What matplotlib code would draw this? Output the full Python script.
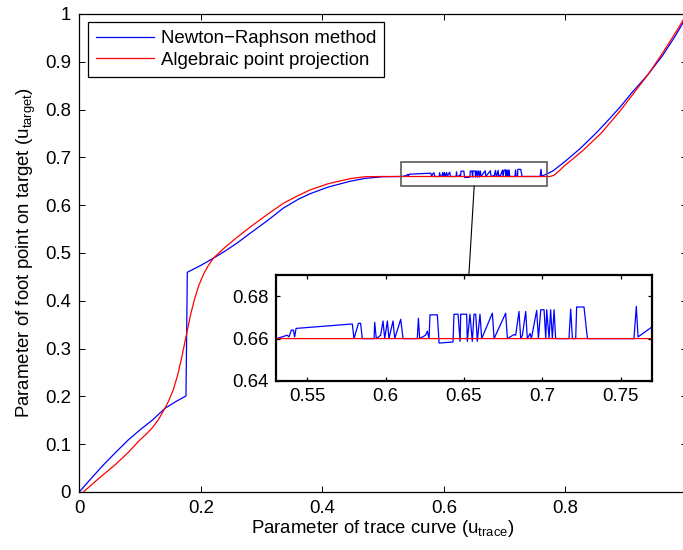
import matplotlib
matplotlib.use("Agg")
import matplotlib.pyplot as plt
from matplotlib.patches import Rectangle, ConnectionPatch

plt.rcParams['font.family'] = ['Liberation Sans', 'DejaVu Sans']
plt.rcParams['mathtext.fontset'] = 'custom'
plt.rcParams['mathtext.rm'] = 'Liberation Sans'
plt.rcParams['mathtext.it'] = 'Liberation Sans:italic'

# Newton-Raphson result (blue)
nr_early_x = [0.0, 0.02, 0.04, 0.06, 0.0807, 0.1, 0.12, 0.141, 0.16, 0.1756,
              0.1778, 0.2, 0.2206, 0.24, 0.26, 0.281, 0.31, 0.336, 0.36, 0.38,
              0.41, 0.4456, 0.47, 0.5]
nr_early_y = [0.0, 0.029, 0.057, 0.083, 0.109, 0.13, 0.15, 0.175, 0.19, 0.2008,
              0.4596, 0.474, 0.489, 0.504, 0.521, 0.541, 0.568, 0.594, 0.612, 0.624,
              0.638, 0.650, 0.656, 0.6595]

# the noisy plateau (what the inset shows)
nr_plateau_x = [0.5304, 0.5372, 0.5383, 0.5398, 0.5411, 0.5419, 0.5428, 0.5787, 0.5798, 0.5826,
                0.5840, 0.5851, 0.5926, 0.5930, 0.5940, 0.5968, 0.5983, 0.5994, 0.6011, 0.6021,
                0.6047, 0.6058, 0.6096, 0.6111, 0.6202, 0.6209, 0.6217, 0.6255, 0.6266, 0.6277,
                0.6283, 0.6330, 0.6341, 0.6430, 0.6436, 0.6462, 0.6475, 0.6479, 0.6517, 0.6521,
                0.6538, 0.6553, 0.6564, 0.6575, 0.6585, 0.6602, 0.6613, 0.6681, 0.6692, 0.6766,
                0.6777, 0.6819, 0.6830, 0.6851, 0.6862, 0.6873, 0.6894, 0.6904, 0.6922, 0.6930,
                0.6964, 0.6975, 0.6990, 0.7011, 0.7022, 0.7028, 0.7043, 0.7053, 0.7064, 0.7075,
                0.7085, 0.7170, 0.7181, 0.7192, 0.7213, 0.7219, 0.7266, 0.7288, 0.7585, 0.7600,
                0.7611, 0.7702]
nr_plateau_y = [0.6600, 0.6616, 0.6608, 0.6640, 0.6640, 0.6608, 0.6648, 0.6669, 0.6600, 0.6672,
                0.6672, 0.6600, 0.6600, 0.6677, 0.6600, 0.6616, 0.6683, 0.6600, 0.6683, 0.6600,
                0.6683, 0.6600, 0.6691, 0.6600, 0.6600, 0.6696, 0.6600, 0.6616, 0.6635, 0.6600,
                0.6712, 0.6712, 0.6579, 0.6584, 0.6715, 0.6715, 0.6587, 0.6715, 0.6715, 0.6587,
                0.6715, 0.6587, 0.6715, 0.6715, 0.6587, 0.6715, 0.6600, 0.6720, 0.6600, 0.6720,
                0.6600, 0.6619, 0.6616, 0.6728, 0.6600, 0.6616, 0.6728, 0.6600, 0.6624, 0.6600,
                0.6733, 0.6600, 0.6736, 0.6736, 0.6600, 0.6736, 0.6600, 0.6736, 0.6600, 0.6736,
                0.6600, 0.6600, 0.6739, 0.6600, 0.6600, 0.6749, 0.6749, 0.6600, 0.6600, 0.6752,
                0.6608, 0.6656]

nr_late_x = [0.78, 0.80, 0.824, 0.85, 0.87, 0.89, 0.91, 0.9366, 0.96, 0.98, 1.0]
nr_late_y = [0.672, 0.692, 0.718, 0.750, 0.777, 0.805, 0.836, 0.874, 0.913, 0.952, 0.995]

# Algebraic point projection (red)
ap_x = [0.0066, 0.03, 0.06, 0.08, 0.0999, 0.11, 0.12, 0.13, 0.141, 0.148,
        0.155, 0.162, 0.168, 0.1768, 0.183, 0.19, 0.197, 0.205, 0.212, 0.2206,
        0.24, 0.26, 0.281, 0.31, 0.336, 0.36, 0.38, 0.41, 0.4456, 0.47,
        0.5, 0.775, 0.782, 0.79, 0.797, 0.83, 0.86, 0.89, 0.91, 0.9366,
        0.96, 0.98, 1.0]
ap_y = [0.0, 0.026, 0.058, 0.082, 0.109, 0.121, 0.134, 0.151, 0.175, 0.193,
        0.215, 0.245, 0.278, 0.332, 0.37, 0.405, 0.433, 0.457, 0.473, 0.489,
        0.512, 0.533, 0.554, 0.581, 0.604, 0.620, 0.632, 0.645, 0.6555, 0.6595,
        0.660, 0.660, 0.663, 0.672, 0.6806, 0.7155, 0.752, 0.797, 0.830, 0.874,
        0.918, 0.958, 1.0]

nr_x = nr_early_x + nr_plateau_x + nr_late_x
nr_y = nr_early_y + nr_plateau_y + nr_late_y

main_xticks = [0, 0.2, 0.4, 0.6, 0.8]
main_yticks = [0, 0.1, 0.2, 0.3, 0.4, 0.5, 0.6, 0.7, 0.8, 0.9, 1]
zoom_xlim = (0.53, 0.77)
zoom_ylim = (0.64, 0.69)
zoom_xticks = [0.55, 0.6, 0.65, 0.7, 0.75]
zoom_yticks = [0.64, 0.66, 0.68]

FS = 13.4

fig = plt.figure(figsize=(6.83, 5.5), dpi=100)
# right spine sits just outside the picture, as in the reference crop
ax = fig.add_axes([0.1161, 0.1055, 0.8895, 0.8691])

ax.plot(nr_x, nr_y, color='#0000ff', lw=0.9, label='Newton\u2212Raphson method')
ax.plot(ap_x, ap_y, color='#ff0000', lw=0.9, label='Algebraic point projection')

ax.set_xlim(0, 1)
ax.set_ylim(0, 1)
ax.set_xticks(main_xticks)
ax.set_xticklabels(['0', '0.2', '0.4', '0.6', '0.8'])
ax.set_yticks(main_yticks)
ax.set_yticklabels(['0', '0.1', '0.2', '0.3', '0.4', '0.5', '0.6', '0.7', '0.8', '0.9', '1'])
ax.tick_params(direction='in', top=True, right=True, length=4, width=0.7,
               labelsize=FS, pad=6)
for s in ax.spines.values():
    s.set_linewidth(0.9)

ax.set_xlabel('Parameter of trace curve ($\\mathrm{u}_{\\mathrm{trace}}$)', fontsize=FS)
ax.set_ylabel('Parameter of foot point on target ($\\mathrm{u}_{\\mathrm{target}}$)', fontsize=FS)
ax.xaxis.set_label_coords(0.5, -0.055)
ax.yaxis.set_label_coords(-0.068, 0.5)

leg = ax.legend(loc='upper left', bbox_to_anchor=(0.0148, 0.9826), borderaxespad=0,
                fontsize=FS, fancybox=False, framealpha=1, edgecolor='black',
                handlelength=3.1, handletextpad=0.4, labelspacing=0.25, borderpad=0.42)
leg.get_frame().set_linewidth(0.9)

# zoom box on the main axes
ax.add_patch(Rectangle((zoom_xlim[0], zoom_ylim[0]), zoom_xlim[1] - zoom_xlim[0],
                       zoom_ylim[1] - zoom_ylim[0], fill=False,
                       edgecolor='#5a5a5a', lw=1.2, zorder=5))

# inset
axin = fig.add_axes([0.4041, 0.3073, 0.5505, 0.1927])
axin.plot(nr_x, nr_y, color='#0000ff', lw=0.9)
axin.plot(ap_x, ap_y, color='#ff0000', lw=0.9)
axin.set_xlim(*zoom_xlim)
axin.set_ylim(*zoom_ylim)
axin.set_xticks(zoom_xticks)
axin.set_xticklabels(['0.55', '0.6', '0.65', '0.7', '0.75'])
axin.set_yticks(zoom_yticks)
axin.set_yticklabels(['0.64', '0.66', '0.68'])
axin.tick_params(direction='in', top=True, right=True, length=3, width=0.9,
                 labelsize=FS, pad=5)
for s in axin.spines.values():
    s.set_linewidth(1.6)

con = ConnectionPatch(xyA=(0.65, zoom_ylim[0]), coordsA=ax.transData,
                      xyB=(0.513, 1.0), coordsB=axin.transAxes,
                      color='black', lw=0.8)
fig.add_artist(con)

fig.savefig('out.png', dpi=100)
